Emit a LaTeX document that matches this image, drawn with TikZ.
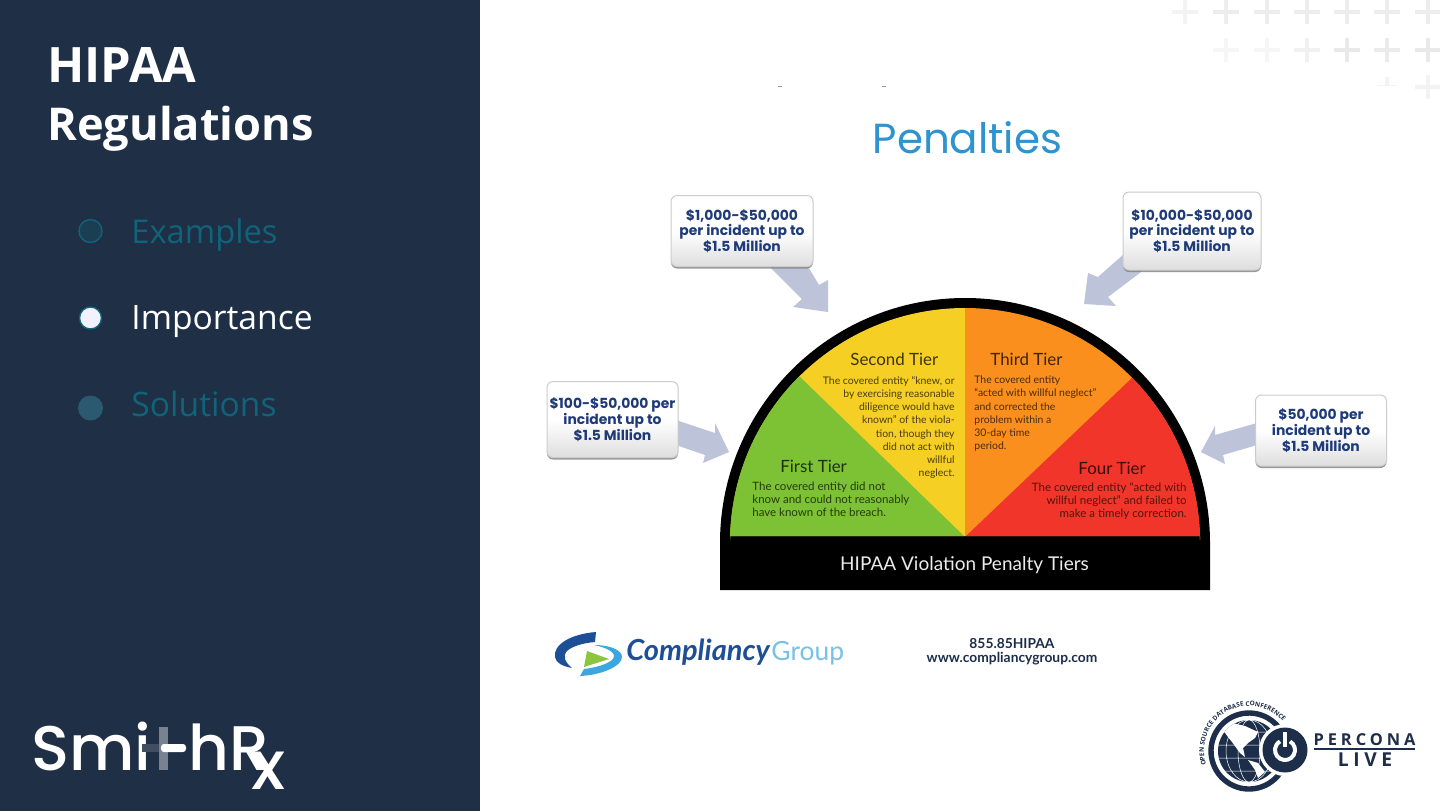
\documentclass[tikz,border=0pt]{standalone}
\usepackage{fontspec}
\setmainfont{Open Sans}
\newfontfamily\latof{Lato}
\newfontfamily\popf{Poppins}
\newfontfamily\popm{Poppins Medium}
\newfontfamily\opensf{Open Sans}
\usetikzlibrary{decorations.text,shadows}
\definecolor{side}{HTML}{1F2F46}
\definecolor{tealc}{HTML}{0F6478}
\definecolor{navy}{HTML}{1E3A78}
\definecolor{arrowc}{HTML}{BDC3D9}
\definecolor{perc}{HTML}{1C2E4A}
\definecolor{penc}{HTML}{2E93CF}
\definecolor{tgreen}{HTML}{7DC234}
\definecolor{tyellow}{HTML}{F6CF25}
\definecolor{torange}{HTML}{FA8F1E}
\definecolor{tred}{HTML}{F1352A}
\definecolor{cdark}{HTML}{1D4F96}
\definecolor{clight}{HTML}{3BA7DE}
\definecolor{cgreen}{HTML}{8CC63F}
\definecolor{solb}{HTML}{2B5A70}
\newcommand{\fs}[2]{\fontsize{#1}{#2}\selectfont}
\tikzset{
 x=0.5pt,y=-0.5pt,
 callout/.style={rounded corners=3pt,draw=black!20,line width=0.5pt,top color=white,bottom color=black!13,middle color=white,
   drop shadow={shadow xshift=0pt,shadow yshift=-1pt,fill=black!50,opacity=0.8},
   text=navy,align=center,inner sep=0pt,font=\popf\bfseries\fs{6.95}{7.9}},
 bigarrow/.style={fill=arrowc,draw=none},
 tierhead/.style={font=\latof\fs{8.45}{9},inner sep=0pt,anchor=base west},
 tierbody/.style={font=\latof\fs{5.75}{6.6},inner sep=0pt},
 tiernarrow/.style={font=\latof\fs{5.22}{6.6},inner sep=0pt},
 menu/.style={inner sep=0pt,anchor=base west},
 plusmark/.style={line width=2.2pt},
 lbl/.style={inner sep=0pt},
}
\newcommand{\plusat}[3]{\draw[plusmark,color=#3] (#1-13,#2)--(#1+13,#2) (#1,#2-12)--(#1,#2+12);}
\begin{document}
\begin{tikzpicture}
\useasboundingbox (0,0) rectangle (1440,811);
\fill[white] (0,0) rectangle (1440,811);
\fill[side] (0,0) rectangle (480,811);
% plus marks
\foreach \xx/\cc in {1185/F3F3F3,1226/EDEDED,1267/EDEDED,1307/EDEDED,1347/EDEDED,1387/EDEDED,1428/EDEDED}{\definecolor{pc}{HTML}{\cc}\plusat{\xx}{12}{pc}}
\foreach \xx/\cc in {1226/F6F6F6,1267/F6F6F6,1307/F1F1F1,1347/E9E9E9,1387/EBEBEB,1428/E9E9E9}{\definecolor{pc}{HTML}{\cc}\plusat{\xx}{50}{pc}}
\definecolor{pc}{HTML}{F3F3F3}\plusat{1428}{87}{pc}
\draw[line width=0.4pt,color=pc] (1377,85)--(1397,85);
\draw[line width=2pt,color=pc] (1387,77)--(1387,85);
% sidebar
\node[lbl,anchor=base west,text=white,font=\opensf\bfseries\fs{24.4}{29}] (t1) at (47,82) {HIPAA};
\node[lbl,anchor=base west,text=white,font=\opensf\bfseries\fs{22.6}{29}] (t2) at (47,140) {Regulations};
\node[circle,minimum size=11.5pt,inner sep=0pt,fill=tealc!30!side,draw=tealc,line width=0.7pt] (b1) at (90.5,231) {};
\node[circle,minimum size=11pt,inner sep=0pt,fill=white!95!blue,draw=tealc,line width=0.7pt] (b2) at (90.5,318) {};
\node[circle,minimum size=12.5pt,inner sep=0pt,fill=solb] (b3) at (90.5,408) {};
\node[menu,text=tealc,font=\opensf\fs{16.35}{20}] (m1) at (131,243) {Examples};
\node[menu,text=white,font=\opensf\fs{16.8}{20}] (m2) at (131,329) {Importance};
\node[menu,text=tealc,font=\opensf\fs{16.8}{20}] (m3) at (131,416) {Solutions};
% smithrx
\node[lbl,anchor=base west,text=white,font=\popm\fs{31.5}{31}] (s1) at (31,770) {Smi};
\fill[white!15!side] (142,744) rectangle (159,752);
\fill[white!40!side] (158.5,727) rectangle (168,770);
\fill[white,rounded corners=1.5pt] (161,744) rectangle (186,752);
\node[lbl,anchor=base west,text=white,font=\popm\fs{31.5}{31}] (s2) at (188,770) {hR};
\node[lbl,anchor=base west,text=white,font=\popm\fs{34}{34}] (s3) at (251,789) {x};
% top specks
\fill[black!40] (778,86) rectangle (782,87);
\fill[black!40] (882,86) rectangle (886,87);
\node[lbl,anchor=base,text=penc,font=\popf\fs{21}{22}] (pen) at (967.5,153) {Penalties};
% semicircle
\fill[black] (720,590) -- (720,543) arc[start angle=180,end angle=360,radius=245] -- (1210,590) -- cycle;
\begin{scope}
\clip (730,536) -- (730,543) arc[start angle=180,end angle=360,radius=235] -- (1200,536) -- cycle;
\fill[tyellow] (700,290) rectangle (965,540);
\fill[torange] (965,290) rectangle (1230,540);
\fill[tgreen] (965,537) -- (796,373) -- (700,373) -- (700,540) -- (965,540) -- cycle;
\fill[tred] (965,537) -- (1134,376) -- (1230,376) -- (1230,540) -- (965,540) -- cycle;
\end{scope}
% tier text
\node[tierhead,text=black!75!tyellow] (h2) at (850,365) {Second Tier};
\node[tierhead,text=black!75!torange] (h3) at (990,365) {Third Tier};
\node[tierhead,text=black!75!tgreen] (h1) at (780,472) {First Tier};
\node[tierhead,text=black!75!tred] (h4) at (1078,474) {Four Tier};
\node[tiernarrow,anchor=north east,align=right,text=black!70!tyellow] (b2t) at (955,376) {The covered entity “knew, or\\by exercising reasonable\\diligence would have\\known” of the viola-\\tion, though they\\did not act with\\willful\\neglect.};
\node[tiernarrow,anchor=north west,align=left,text=black!70!torange] (b3t) at (974,375.5) {The covered entity\\“acted with willful neglect”\\and corrected the\\problem within a\\30-day time\\period.};
\node[tierbody,anchor=north west,align=left,text=black!70!tgreen] (b1t) at (752,481.5) {The covered entity did not\\know and could not reasonably\\have known of the breach.};
\node[tierbody,anchor=north east,align=right,text=black!65!tred] (b4t) at (1187,482) {The covered entity “acted with\\willful neglect” and failed to\\make a timely correction.};
\node[lbl,text=white!92!black,font=\latof\fs{9.5}{10}] (bar) at (964.5,565) {HIPAA Violation Penalty Tiers};
% arrows
\fill[bigarrow] (768,265)--(807,265)--(819,285)--(828,280)--(828,312)--(793,307)--(802,299)--cycle;
\fill[bigarrow] (676,420)--(715,433)--(715,423)--(729,452)--(703,463)--(705,455)--(676,445)--cycle;
\fill[bigarrow] (1125,253)--(1098,277)--(1088,273)--(1084,304)--(1116,306)--(1108,297)--(1145,269)--cycle;
\fill[bigarrow] (1257,423)--(1215,435)--(1215,426)--(1201,452)--(1225,464)--(1223,455)--(1257,445)--cycle;
% callouts
\node[callout,minimum width=71pt,minimum height=35.5pt] (c1) at (742,231) {\$1,000-\$50,000\\per incident up to\\\$1.5 Million};
\node[callout,minimum width=65.5pt,minimum height=38pt] (c2) at (612.5,419.5) {\$100-\$50,000 per\\incident up to\\\$1.5 Million};
\node[callout,minimum width=69pt,minimum height=39pt] (c3) at (1192,231) {\$10,000-\$50,000\\per incident up to\\\$1.5 Million};
\node[callout,minimum width=65.5pt,minimum height=35.5pt] (c4) at (1321,430.5) {\$50,000 per\\incident up to\\\$1.5 Million};
% compliancy logo
\fill[cdark] (596,632) .. controls (570,634) and (553,645) .. (555,657) .. controls (556,663) and (562,666) .. (572,668) .. controls (565,662) and (563,657) .. (566,652) .. controls (570,647) and (582,643) .. (595,642) -- cycle;
\fill[clight] (594,645) .. controls (610,645) and (622,650) .. (622,657) .. controls (622,666) and (602,675) .. (580,676) -- (584,669) .. controls (600,667) and (614,662) .. (614,656) .. controls (614,651) and (604,647) .. (594,645) -- cycle;
\fill[cgreen] (587,651)--(609,659)--(584,667)--cycle;
\node[lbl,anchor=base west,text=cdark,font=\latof\bfseries\itshape\fs{14.5}{15}] (cg1) at (626,660) {Compliancy};
\node[lbl,anchor=base west,text=clight!70!white,font=\latof\fs{13.2}{14}] (cg2) at (771,660) {Group};
\node[lbl,align=center,text=perc,font=\latof\bfseries\fs{6.9}{7}] (ph) at (1012,652) {855.85HIPAA\\www.compliancygroup.com};
% percona logo
\fill[perc] (1249,751) circle[radius=31];
\begin{scope}
\clip (1249,751) circle[radius=31];
\draw[white,line width=0.25pt] (1249,751) ellipse[x radius=11,y radius=31] (1249,751) ellipse[x radius=23,y radius=31]
 (1215,732)--(1285,732) (1215,745)--(1285,745) (1215,758)--(1285,758) (1215,771)--(1285,771);
\fill[white] (1223,730) -- (1233,723) -- (1245,726) -- (1258,732) -- (1255,738) -- (1248,743) -- (1243,748) -- (1245,757) -- (1240,753) -- (1232,742) -- (1228,737) -- cycle;
\fill[white] (1248,760) -- (1258,763) -- (1265,772) -- (1258,778) -- (1255,770) -- cycle;
\end{scope}
\draw[perc,line width=2.7pt] (1249,751) ++(30:38) arc[start angle=30,end angle=330,radius=38];
\path[postaction={decorate,decoration={text along path,text align=left,
  text={|\opensf\bfseries\fs{3.2}{4}\color{perc}|OPEN SOURCE DATABASE CONFERENCE}}}] (1249,751) ++(162:45) arc[start angle=162,end angle=335,radius=45];
\fill[white] (1285,750) circle[radius=26];
\fill[perc] (1285,750) circle[radius=22.5];
\draw[white,line width=2pt] (1285,750) ++(-60:10) arc[start angle=-60,end angle=240,radius=10];
\draw[perc,line width=3.5pt] (1285,730) -- (1285,746);
\draw[white,line width=1.9pt] (1285,732) -- (1285,747);
\node[lbl,anchor=base,text=perc,font=\opensf\bfseries\fs{8.2}{9}] (pc1) at (1364.5,745) {\addfontfeature{LetterSpace=24}PERCONA};
\draw[perc,line width=0.6pt] (1314,749) -- (1415,749);
\node[lbl,anchor=base,text=perc,font=\opensf\bfseries\fs{9.6}{10}] (pc2) at (1365,766) {\addfontfeature{LetterSpace=24}LIVE};
\end{tikzpicture}
\end{document}
